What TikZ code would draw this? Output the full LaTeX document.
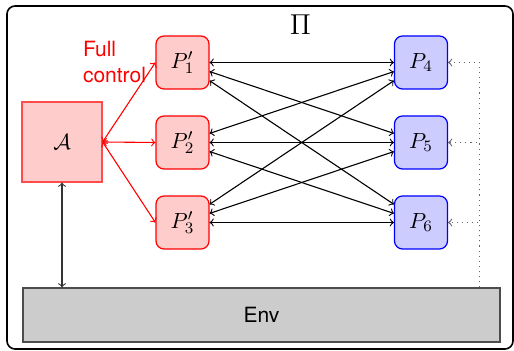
\documentclass[tikz,border=0pt]{standalone}
\usepackage{fontspec}
\newfontfamily\helv{TeX Gyre Heros}
\begin{document}
\begin{tikzpicture}[x=0.5pt,y=-0.5pt,
  pbase/.style={rounded corners=4pt, minimum size=26.5pt, inner sep=0pt, line width=0.6pt,
    font=\fontsize{11}{13}\selectfont},
  redp/.style={pbase, fill=red!20, draw=red},
  bluep/.style={pbase, fill=blue!20, draw=blue},
  advbox/.style={minimum size=40pt, inner sep=0pt, fill=red!20, draw=red!70, line width=0.6pt,
    font=\fontsize{11}{13}\selectfont},
  envbox/.style={minimum width=238.5pt, minimum height=27pt, inner sep=0pt, fill=gray!40,
    draw=black!70, line width=0.6pt, font=\helv\fontsize{10.5}{13}\selectfont},
  link/.style={<->, line width=0.55pt},
  ctrl/.style={<->, red, line width=0.55pt},
  envlink/.style={dotted, ->, black!60, line width=0.55pt}]
\useasboundingbox (0,0) rectangle (514,351);
\draw[line width=0.8pt, rounded corners=4pt] (7,6) rectangle (513,349);
\node[font=\fontsize{14.4}{17}\selectfont, inner sep=0pt] (pi) at (300.5,25) {$\Pi$};
\node[advbox] (A) at (62,142) {$\mathcal{A}$};
\node[redp] (p1) at (182.5,62.5) {$P'_1$};
\node[redp] (p2) at (182.5,142.5) {$P'_2$};
\node[redp] (p3) at (182.5,222.5) {$P'_3$};
\node[bluep] (p4) at (421,62.5) {$P_4$};
\node[bluep] (p5) at (421,142.5) {$P_5$};
\node[bluep] (p6) at (421,222.5) {$P_6$};
\node[envbox] (env) at (261.5,315) {Env};
\node[red, align=left, inner sep=0pt, font=\helv\fontsize{10.5}{13}\selectfont] (fc) at (114.5,62.5) {Full\\control};
\draw[ctrl] (A.east) -- (p1.west);
\draw[ctrl] (A.east) -- (p2.west);
\draw[ctrl] (A.east) -- (p3.west);
\foreach \i in {p1,p2,p3}{
  \foreach \j in {p4,p5,p6}{
    \draw[link] (\i) -- (\j);
  }
}
\coordinate (dx) at ([xshift=-10.5pt]env.north east);
\draw[envlink] (dx) |- (p4);
\draw[envlink] (dx) |- (p5);
\draw[envlink] (dx) |- (p6);
\coordinate (ae) at (A.south |- env.north);
\draw[<->, black!80, line width=0.55pt] (A.south) -- (ae);
\end{tikzpicture}
\end{document}
